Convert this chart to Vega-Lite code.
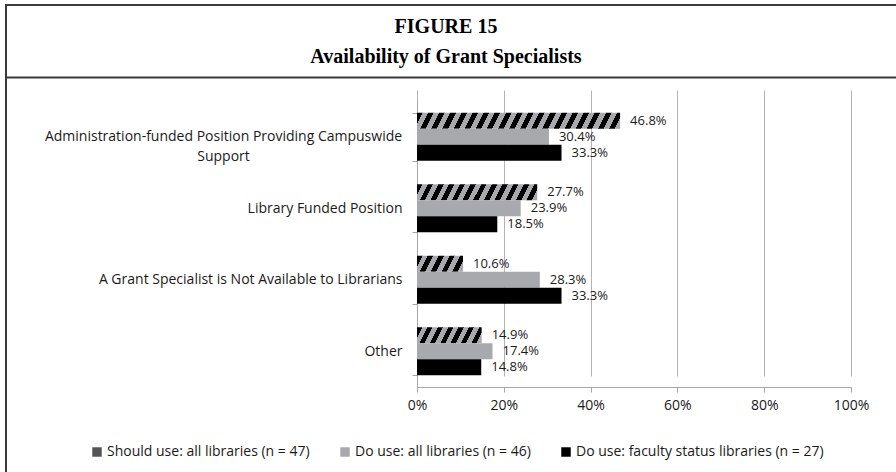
{
  "$schema": "https://vega.github.io/schema/vega-lite/v6.json",
  "width": 890,
  "height": 467,
  "autosize": {"type": "none"},
  "padding": {"left": 6, "top": 5, "right": 0, "bottom": 0},
  "background": "white",
  "config": {
    "font": "Open Sans",
    "view": {"stroke": "#3a3a3a", "strokeWidth": 2, "strokeDash": [890, 1357, 467]}
  },
  "title": {
    "text": ["FIGURE 15", "Availability of Grant Specialists"],
    "font": "Liberation Serif",
    "fontSize": 20,
    "fontWeight": "bold",
    "color": "#000000",
    "anchor": "middle",
    "frame": "group",
    "lineHeight": 30,
    "offset": -69,
    "dx": -5
  },
  "data": {
    "values": [
      {"cat": "Administration-funded Position Providing Campuswide Support", "series": "Should use: all libraries (n = 47)", "pct": 0.468},
      {"cat": "Administration-funded Position Providing Campuswide Support", "series": "Do use: all libraries (n = 46)", "pct": 0.304},
      {"cat": "Administration-funded Position Providing Campuswide Support", "series": "Do use: faculty status libraries (n = 27)", "pct": 0.333},
      {"cat": "Library Funded Position", "series": "Should use: all libraries (n = 47)", "pct": 0.277},
      {"cat": "Library Funded Position", "series": "Do use: all libraries (n = 46)", "pct": 0.239},
      {"cat": "Library Funded Position", "series": "Do use: faculty status libraries (n = 27)", "pct": 0.185},
      {"cat": "A Grant Specialist is Not Available to Librarians", "series": "Should use: all libraries (n = 47)", "pct": 0.106},
      {"cat": "A Grant Specialist is Not Available to Librarians", "series": "Do use: all libraries (n = 46)", "pct": 0.283},
      {"cat": "A Grant Specialist is Not Available to Librarians", "series": "Do use: faculty status libraries (n = 27)", "pct": 0.333},
      {"cat": "Other", "series": "Should use: all libraries (n = 47)", "pct": 0.149},
      {"cat": "Other", "series": "Do use: all libraries (n = 46)", "pct": 0.174},
      {"cat": "Other", "series": "Do use: faculty status libraries (n = 27)", "pct": 0.148}
    ]
  },
  "layer": [
    {
      "encoding": {
        "y": {
          "field": "cat",
          "type": "nominal",
          "scale": {
            "domain": ["Administration-funded Position Providing Campuswide Support", "Library Funded Position", "A Grant Specialist is Not Available to Librarians", "Other"],
            "range": [96, 382],
            "paddingInner": 0.33,
            "paddingOuter": 0.165
          },
          "axis": {
            "title": null,
            "offset": -411,
            "domainColor": "#a6a6a6",
            "tickColor": "#a6a6a6",
            "tickBand": "extent",
            "tickSize": 5,
            "labelFontSize": 14,
            "labelColor": "#1a1a1a",
            "labelLimit": 600,
            "labelLineHeight": 20,
            "labelExpr": "datum.value === 'Administration-funded Position Providing Campuswide Support' ? ['Administration-funded Position Providing Campuswide', 'Support'] : datum.value",
            "labelAlign": {"condition": {"test": "datum.value === 'Administration-funded Position Providing Campuswide Support'", "value": "center"}, "value": "right"},
            "labelPadding": {"condition": {"test": "datum.value === 'Administration-funded Position Providing Campuswide Support'", "value": 189}, "value": 10},
            "grid": false
          }
        },
        "yOffset": {
          "field": "series",
          "type": "nominal",
          "scale": {"domain": ["Should use: all libraries (n = 47)", "Do use: all libraries (n = 46)", "Do use: faculty status libraries (n = 27)"], "paddingInner": 0, "paddingOuter": 0}
        },
        "x": {
          "field": "pct",
          "type": "quantitative",
          "scale": {"domain": [0, 1], "range": [411, 845], "nice": false},
          "axis": {
            "title": null,
            "offset": -85,
            "format": ".0%",
            "values": [0, 0.2, 0.4, 0.6, 0.8, 1],
            "grid": true,
            "gridColor": "#b3b3b3",
            "domainColor": "#a6a6a6",
            "tickColor": "#a6a6a6",
            "tickSize": 5,
            "labelFontSize": 14,
            "labelColor": "#1a1a1a",
            "labelPadding": 6,
            "labelFlush": false
          }
        }
      },
      "layer": [
        {
          "mark": {"type": "bar"},
          "encoding": {
            "fill": {
              "field": "series",
              "type": "nominal",
              "scale": {"domain": ["Should use: all libraries (n = 47)", "Do use: all libraries (n = 46)", "Do use: faculty status libraries (n = 27)"], "range": ["#555555", "#a7a9ac", "#000000"]},
              "condition": [
                {"test": "datum.series === 'Should use: all libraries (n = 47)' && datum.cat === 'Administration-funded Position Providing Campuswide Support'",
                 "value": {"gradient": "linear", "x1": 0, "y1": 0, "x2": 1.0378, "y2": 0.0409, "stops": [
                   {"offset": 0, "color": "#000000"}, {"offset": 0.0263, "color": "#000000"}, {"offset": 0.0263, "color": "#a7a9ac"}, {"offset": 0.0526, "color": "#a7a9ac"},
                   {"offset": 0.0526, "color": "#000000"}, {"offset": 0.0789, "color": "#000000"}, {"offset": 0.0789, "color": "#a7a9ac"}, {"offset": 0.1053, "color": "#a7a9ac"},
                   {"offset": 0.1053, "color": "#000000"}, {"offset": 0.1316, "color": "#000000"}, {"offset": 0.1316, "color": "#a7a9ac"}, {"offset": 0.1579, "color": "#a7a9ac"},
                   {"offset": 0.1579, "color": "#000000"}, {"offset": 0.1842, "color": "#000000"}, {"offset": 0.1842, "color": "#a7a9ac"}, {"offset": 0.2105, "color": "#a7a9ac"},
                   {"offset": 0.2105, "color": "#000000"}, {"offset": 0.2368, "color": "#000000"}, {"offset": 0.2368, "color": "#a7a9ac"}, {"offset": 0.2632, "color": "#a7a9ac"},
                   {"offset": 0.2632, "color": "#000000"}, {"offset": 0.2895, "color": "#000000"}, {"offset": 0.2895, "color": "#a7a9ac"}, {"offset": 0.3158, "color": "#a7a9ac"},
                   {"offset": 0.3158, "color": "#000000"}, {"offset": 0.3421, "color": "#000000"}, {"offset": 0.3421, "color": "#a7a9ac"}, {"offset": 0.3684, "color": "#a7a9ac"},
                   {"offset": 0.3684, "color": "#000000"}, {"offset": 0.3947, "color": "#000000"}, {"offset": 0.3947, "color": "#a7a9ac"}, {"offset": 0.4211, "color": "#a7a9ac"},
                   {"offset": 0.4211, "color": "#000000"}, {"offset": 0.4474, "color": "#000000"}, {"offset": 0.4474, "color": "#a7a9ac"}, {"offset": 0.4737, "color": "#a7a9ac"},
                   {"offset": 0.4737, "color": "#000000"}, {"offset": 0.5, "color": "#000000"}, {"offset": 0.5, "color": "#a7a9ac"}, {"offset": 0.5263, "color": "#a7a9ac"},
                   {"offset": 0.5263, "color": "#000000"}, {"offset": 0.5526, "color": "#000000"}, {"offset": 0.5526, "color": "#a7a9ac"}, {"offset": 0.5789, "color": "#a7a9ac"},
                   {"offset": 0.5789, "color": "#000000"}, {"offset": 0.6053, "color": "#000000"}, {"offset": 0.6053, "color": "#a7a9ac"}, {"offset": 0.6316, "color": "#a7a9ac"},
                   {"offset": 0.6316, "color": "#000000"}, {"offset": 0.6579, "color": "#000000"}, {"offset": 0.6579, "color": "#a7a9ac"}, {"offset": 0.6842, "color": "#a7a9ac"},
                   {"offset": 0.6842, "color": "#000000"}, {"offset": 0.7105, "color": "#000000"}, {"offset": 0.7105, "color": "#a7a9ac"}, {"offset": 0.7368, "color": "#a7a9ac"},
                   {"offset": 0.7368, "color": "#000000"}, {"offset": 0.7632, "color": "#000000"}, {"offset": 0.7632, "color": "#a7a9ac"}, {"offset": 0.7895, "color": "#a7a9ac"},
                   {"offset": 0.7895, "color": "#000000"}, {"offset": 0.8158, "color": "#000000"}, {"offset": 0.8158, "color": "#a7a9ac"}, {"offset": 0.8421, "color": "#a7a9ac"},
                   {"offset": 0.8421, "color": "#000000"}, {"offset": 0.8684, "color": "#000000"}, {"offset": 0.8684, "color": "#a7a9ac"}, {"offset": 0.8947, "color": "#a7a9ac"},
                   {"offset": 0.8947, "color": "#000000"}, {"offset": 0.9211, "color": "#000000"}, {"offset": 0.9211, "color": "#a7a9ac"}, {"offset": 0.9474, "color": "#a7a9ac"},
                   {"offset": 0.9474, "color": "#000000"}, {"offset": 0.9737, "color": "#000000"}, {"offset": 0.9737, "color": "#a7a9ac"}, {"offset": 1, "color": "#a7a9ac"}
                 ]}},
                {"test": "datum.series === 'Should use: all libraries (n = 47)' && datum.cat === 'Library Funded Position'",
                 "value": {"gradient": "linear", "x1": 0, "y1": 0, "x2": 1.0619, "y2": 0.0707, "stops": [
                   {"offset": 0, "color": "#000000"}, {"offset": 0.0417, "color": "#000000"}, {"offset": 0.0417, "color": "#a7a9ac"}, {"offset": 0.0833, "color": "#a7a9ac"},
                   {"offset": 0.0833, "color": "#000000"}, {"offset": 0.125, "color": "#000000"}, {"offset": 0.125, "color": "#a7a9ac"}, {"offset": 0.1667, "color": "#a7a9ac"},
                   {"offset": 0.1667, "color": "#000000"}, {"offset": 0.2083, "color": "#000000"}, {"offset": 0.2083, "color": "#a7a9ac"}, {"offset": 0.25, "color": "#a7a9ac"},
                   {"offset": 0.25, "color": "#000000"}, {"offset": 0.2917, "color": "#000000"}, {"offset": 0.2917, "color": "#a7a9ac"}, {"offset": 0.3333, "color": "#a7a9ac"},
                   {"offset": 0.3333, "color": "#000000"}, {"offset": 0.375, "color": "#000000"}, {"offset": 0.375, "color": "#a7a9ac"}, {"offset": 0.4167, "color": "#a7a9ac"},
                   {"offset": 0.4167, "color": "#000000"}, {"offset": 0.4583, "color": "#000000"}, {"offset": 0.4583, "color": "#a7a9ac"}, {"offset": 0.5, "color": "#a7a9ac"},
                   {"offset": 0.5, "color": "#000000"}, {"offset": 0.5417, "color": "#000000"}, {"offset": 0.5417, "color": "#a7a9ac"}, {"offset": 0.5833, "color": "#a7a9ac"},
                   {"offset": 0.5833, "color": "#000000"}, {"offset": 0.625, "color": "#000000"}, {"offset": 0.625, "color": "#a7a9ac"}, {"offset": 0.6667, "color": "#a7a9ac"},
                   {"offset": 0.6667, "color": "#000000"}, {"offset": 0.7083, "color": "#000000"}, {"offset": 0.7083, "color": "#a7a9ac"}, {"offset": 0.75, "color": "#a7a9ac"},
                   {"offset": 0.75, "color": "#000000"}, {"offset": 0.7917, "color": "#000000"}, {"offset": 0.7917, "color": "#a7a9ac"}, {"offset": 0.8333, "color": "#a7a9ac"},
                   {"offset": 0.8333, "color": "#000000"}, {"offset": 0.875, "color": "#000000"}, {"offset": 0.875, "color": "#a7a9ac"}, {"offset": 0.9167, "color": "#a7a9ac"},
                   {"offset": 0.9167, "color": "#000000"}, {"offset": 0.9583, "color": "#000000"}, {"offset": 0.9583, "color": "#a7a9ac"}, {"offset": 1, "color": "#a7a9ac"}
                 ]}},
                {"test": "datum.series === 'Should use: all libraries (n = 47)' && datum.cat === 'A Grant Specialist is Not Available to Librarians'",
                 "value": {"gradient": "linear", "x1": 0, "y1": 0, "x2": 1.1394, "y2": 0.1982, "stops": [
                   {"offset": 0, "color": "#000000"}, {"offset": 0.1, "color": "#000000"}, {"offset": 0.1, "color": "#a7a9ac"}, {"offset": 0.2, "color": "#a7a9ac"},
                   {"offset": 0.2, "color": "#000000"}, {"offset": 0.3, "color": "#000000"}, {"offset": 0.3, "color": "#a7a9ac"}, {"offset": 0.4, "color": "#a7a9ac"},
                   {"offset": 0.4, "color": "#000000"}, {"offset": 0.5, "color": "#000000"}, {"offset": 0.5, "color": "#a7a9ac"}, {"offset": 0.6, "color": "#a7a9ac"},
                   {"offset": 0.6, "color": "#000000"}, {"offset": 0.7, "color": "#000000"}, {"offset": 0.7, "color": "#a7a9ac"}, {"offset": 0.8, "color": "#a7a9ac"},
                   {"offset": 0.8, "color": "#000000"}, {"offset": 0.9, "color": "#000000"}, {"offset": 0.9, "color": "#a7a9ac"}, {"offset": 1, "color": "#a7a9ac"}
                 ]}},
                {"test": "datum.series === 'Should use: all libraries (n = 47)' && datum.cat === 'Other'",
                 "value": {"gradient": "linear", "x1": 0, "y1": 0, "x2": 1.1068, "y2": 0.1369, "stops": [
                   {"offset": 0, "color": "#000000"}, {"offset": 0.0714, "color": "#000000"}, {"offset": 0.0714, "color": "#a7a9ac"}, {"offset": 0.1429, "color": "#a7a9ac"},
                   {"offset": 0.1429, "color": "#000000"}, {"offset": 0.2143, "color": "#000000"}, {"offset": 0.2143, "color": "#a7a9ac"}, {"offset": 0.2857, "color": "#a7a9ac"},
                   {"offset": 0.2857, "color": "#000000"}, {"offset": 0.3571, "color": "#000000"}, {"offset": 0.3571, "color": "#a7a9ac"}, {"offset": 0.4286, "color": "#a7a9ac"},
                   {"offset": 0.4286, "color": "#000000"}, {"offset": 0.5, "color": "#000000"}, {"offset": 0.5, "color": "#a7a9ac"}, {"offset": 0.5714, "color": "#a7a9ac"},
                   {"offset": 0.5714, "color": "#000000"}, {"offset": 0.6429, "color": "#000000"}, {"offset": 0.6429, "color": "#a7a9ac"}, {"offset": 0.7143, "color": "#a7a9ac"},
                   {"offset": 0.7143, "color": "#000000"}, {"offset": 0.7857, "color": "#000000"}, {"offset": 0.7857, "color": "#a7a9ac"}, {"offset": 0.8571, "color": "#a7a9ac"},
                   {"offset": 0.8571, "color": "#000000"}, {"offset": 0.9286, "color": "#000000"}, {"offset": 0.9286, "color": "#a7a9ac"}, {"offset": 1, "color": "#a7a9ac"}
                 ]}}
              ],
              "legend": {
                "title": null,
                "orient": "none",
                "legendX": 84,
                "legendY": 440,
                "direction": "horizontal",
                "symbolType": "square",
                "symbolSize": 90,
                "symbolStrokeWidth": 0,
                "labelFontSize": 14,
                "labelColor": "#1a1a1a",
                "labelLimit": 400,
                "labelOffset": 3,
                "columnPadding": 28
              }
            }
          }
        },
        {
          "mark": {"type": "text", "align": "left", "baseline": "middle", "dx": 10, "fontSize": 13, "color": "#1a1a1a"},
          "encoding": {
            "text": {"field": "pct", "type": "quantitative", "format": ".1%"}
          }
        }
      ]
    },
    {
      "mark": {"type": "point", "opacity": 0},
      "encoding": {
        "x": {
          "field": "pct",
          "type": "quantitative",
          "scale": {"domain": [0, 1], "nice": false},
          "axis": {"orient": "top", "offset": -72, "title": null, "ticks": false, "labels": false, "grid": false, "domain": true, "domainColor": "#3a3a3a", "domainWidth": 2}
        }
      }
    }
  ],
  "resolve": {"scale": {"x": "independent"}}
}
